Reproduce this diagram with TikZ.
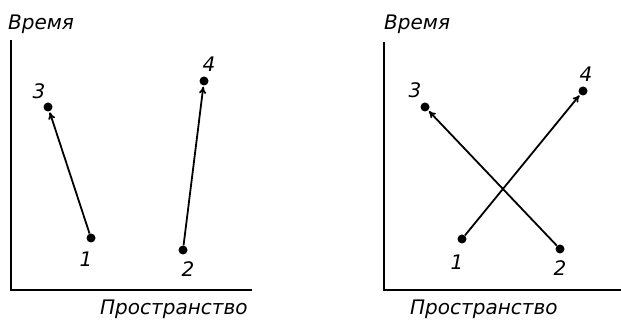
\documentclass[tikz,border=0pt]{standalone}
\usepackage{fontspec}
\setmainfont{DejaVu Sans}
\usetikzlibrary{arrows.meta}
\begin{document}
\begin{tikzpicture}[x=1pt,y=-1pt,
  axis/.style={line width=1.8pt},
  pt/.style={circle,fill=black,inner sep=0pt,minimum size=9pt},
  lbl/.style={font=\fontsize{20}{20}\selectfont\itshape,inner sep=0pt},
  num/.style={font=\fontsize{20}{20}\selectfont\itshape,inner sep=0pt},
  conn/.style={line width=1.8pt,-{To[length=7pt,width=7pt]},shorten >=1pt}]
\useasboundingbox (0,0) rectangle (621,320);
% left panel
\coordinate (lo) at (11,290);
\coordinate (lt) at (11,40);
\coordinate (lr) at (252,290);
\draw[axis] (lt) -- (lo) -- (lr);
\node[lbl,anchor=west] (lv) at (8,24) {Время};
\node[lbl,anchor=west] (lp) at (100,309) {Пространство};
\node[pt] (a1) at (91,238) {};
\node[pt] (a2) at (183,250) {};
\node[pt] (a3) at (48,107) {};
\node[pt] (a4) at (204,81) {};
\node[num] (n1) at (86,259) {1};
\node[num] (n2) at (188,269) {2};
\node[num] (n3) at (39,91) {3};
\node[num] (n4) at (209,64) {4};
\draw[conn] (a1) -- (a3);
\draw[conn] (a2) -- (a4);
% right panel
\coordinate (ro) at (384,290);
\coordinate (rt) at (384,42);
\coordinate (rr) at (621,290);
\draw[axis] (rt) -- (ro) -- (rr);
\node[lbl,anchor=west] (rv) at (384,24) {Время};
\node[lbl,anchor=west] (rp) at (410,309) {Пространство};
\node[pt] (b1) at (462,239) {};
\node[pt] (b2) at (560,249) {};
\node[pt] (b3) at (425,107) {};
\node[pt] (b4) at (583,91) {};
\node[num] (m1) at (457,262) {1};
\node[num] (m2) at (560,268) {2};
\node[num] (m3) at (415,90) {3};
\node[num] (m4) at (586,74) {4};
\draw[conn] (b1) -- (b4);
\draw[conn] (b2) -- (b3);
\end{tikzpicture}
\end{document}
